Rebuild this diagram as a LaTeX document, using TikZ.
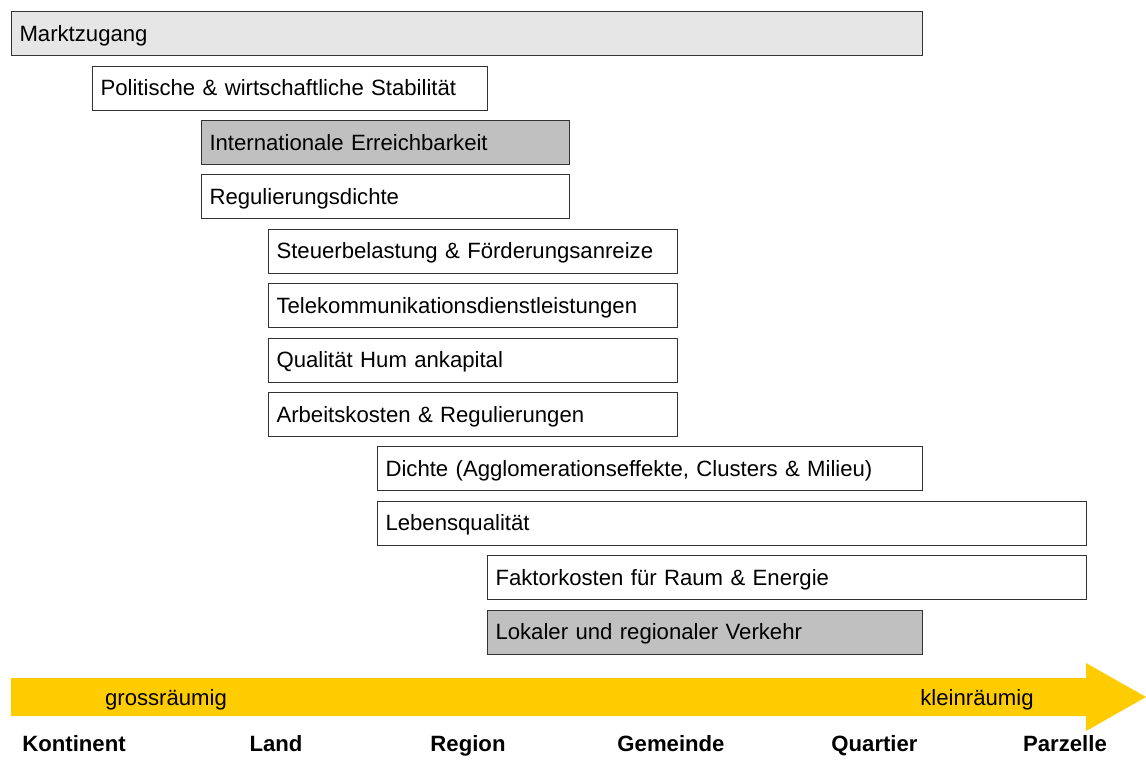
\documentclass[tikz,border=0pt]{standalone}
\usepackage{fontspec}
\setmainfont{Liberation Sans}
\usepackage{tikz}
\usetikzlibrary{positioning}

\definecolor{lightgrey}{HTML}{E6E6E6}
\definecolor{midgrey}{HTML}{C0C0C0}
\definecolor{scaleyellow}{HTML}{FFCC00}

\begin{document}
\begin{tikzpicture}[
  box/.style={rectangle, draw=black!80, line width=0.6pt, fill=white, anchor=north west,
              minimum height=0.88cm, inner xsep=0.16cm, inner ysep=0pt, align=left,
              text height=9pt, text depth=0pt,
              font=\fontsize{12.6}{15}\selectfont},
  shaded/.style={box, fill=midgrey},
  lbl/.style={anchor=base, font=\fontsize{12.6}{15}\selectfont},
  lvl/.style={anchor=base, font=\fontsize{12.6}{15}\selectfont\bfseries}
]
  \useasboundingbox (0,0) rectangle (22.92,-15.20);
  \node[box, fill=lightgrey, text width=17.90cm] (markt) at (0.22,-0.22)  {Marktzugang};
  \node[box, text width=7.58cm]  (polit) at (1.84,-1.31)  {Politische \& wirtschaftliche Stabilität};
  \node[shaded, text width=7.04cm] (intl) at (4.02,-2.40)  {Internationale Erreichbarkeit};
  \node[box, text width=7.04cm]  (regul) at (4.02,-3.48)  {Regulierungsdichte};
  \node[box, text width=7.86cm]  (steuer) at (5.36,-4.57) {Steuerbelastung \& Förderungsanreize};
  \node[box, text width=7.86cm]  (tele)  at (5.36,-5.66)  {Telekommunikationsdienstleistungen};
  \node[box, text width=7.86cm]  (human) at (5.36,-6.75)  {Qualität Hum ankapital};
  \node[box, text width=7.86cm]  (arbeit) at (5.36,-7.84) {Arbeitskosten \& Regulierungen};
  \node[box, text width=10.58cm] (dichte) at (7.54,-8.92) {Dichte (Agglomerationseffekte, Clusters \& Milieu)};
  \node[box, text width=13.86cm] (leben) at (7.54,-10.01) {Lebensqualität};
  \node[box, text width=11.66cm] (faktor) at (9.74,-11.10) {Faktorkosten für Raum \& Energie};
  \node[shaded, text width=8.38cm] (verkehr) at (9.74,-12.19) {Lokaler und regionaler Verkehr};

  % scale arrow
  \fill[scaleyellow] (0.22,-13.56) -- (21.72,-13.56) -- (21.72,-13.26) -- (22.92,-13.94)
    -- (21.72,-14.62) -- (21.72,-14.32) -- (0.22,-14.32) -- cycle;
  \node[lbl] (gross) at (3.32,-14.11)  {grossräumig};
  \node[lbl] (klein) at (19.54,-14.11) {kleinräumig};

  \node[lvl] (kont) at (1.48,-15.03)   {Kontinent};
  \node[lvl] (land) at (5.52,-15.03)   {Land};
  \node[lvl] (reg)  at (9.36,-15.03)   {Region};
  \node[lvl] (gem)  at (13.42,-15.03)  {Gemeinde};
  \node[lvl] (quar) at (17.49,-15.03)  {Quartier};
  \node[lvl] (parz) at (21.30,-15.03)  {Parzelle};
\end{tikzpicture}
\end{document}
